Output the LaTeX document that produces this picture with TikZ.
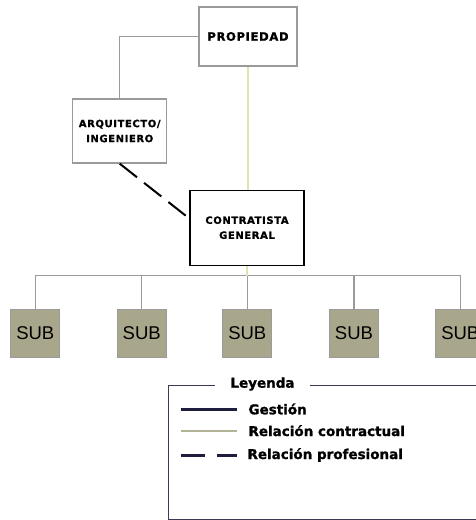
\documentclass[tikz,border=0pt]{standalone}
\usepackage{fontspec}
\usetikzlibrary{calc}
\newfontfamily\boxfont[LetterSpace=6, BoldFeatures={FakeBold=1.2}]{DejaVu Sans}
\newfontfamily\legfont[BoldFeatures={FakeBold=1.2}]{DejaVu Sans}
\newfontfamily\subfont{Liberation Sans}
\definecolor{linegray}{HTML}{9A9A9A}
\definecolor{contract}{HTML}{E2E2B0}
\definecolor{contractleg}{HTML}{B2B294}
\definecolor{subfill}{HTML}{A9A78B}
\definecolor{navy}{HTML}{1E1E3C}
\definecolor{legframe}{HTML}{3A3A55}

\begin{document}
\begin{tikzpicture}[x=1pt, y=-1pt,
    orgbox/.style={draw=#1, line width=1.3pt, fill=white, inner sep=0pt, align=center, font=\boxfont\bfseries\fontsize{10}{15}\selectfont},
    subbox/.style={draw=linegray, line width=1.2pt, fill=subfill, minimum width=49pt, minimum height=48pt, inner sep=0pt, font=\subfont\fontsize{18.5}{20}\selectfont},
    gestion/.style={draw=linegray, line width=1.3pt},
    contrato/.style={draw=contract, line width=1.5pt},
    profesional/.style={draw=black, line width=2pt, dash pattern=on 22pt off 9pt},
    legtext/.style={anchor=west, inner sep=0pt, font=\legfont\bfseries\fontsize{13.5}{16}\selectfont},
]
\useasboundingbox (0,0) rectangle (476,520);
\clip (0,0) rectangle (476,520);

% org chart
\node[orgbox=linegray, minimum width=98pt, minimum height=59pt, font=\boxfont\bfseries\fontsize{11.5}{15}\selectfont] (prop) at (248,36.5) {PROPIEDAD};
\node[orgbox=linegray, minimum width=94pt, minimum height=64pt] (arq) at (119.7,131) {ARQUITECTO/\\INGENIERO};
\node[orgbox=black, minimum width=114pt, minimum height=75pt] (con) at (247,227.7) {CONTRATISTA\\GENERAL};
\foreach \x [count=\i] in {35.3,141.7,247.3,354,460.3}
    \node[subbox] (sub\i) at (\x,333.5) {SUB};

\coordinate (bus) at (0,275.7);
\draw[gestion] (prop.west) -| (arq.north);
\draw[contrato] (prop.south) -- (prop.south |- con.north);
\draw[profesional] (arq.south) -- ($(con.north west)!0.38!(con.south west)$);
\draw[gestion] (sub1.north) |- (bus -| sub5.north) -- (sub5.north);
\foreach \i in {2,3,4}
    \draw[gestion] (sub\i.north) -- (sub\i.north |- bus);
\draw[contrato] (con.south) -- (con.south |- bus);

% legend
\draw[legframe, line width=1pt] (168,385) rectangle (490,519.3);
\node[fill=white, minimum width=95pt, inner sep=0pt, font=\legfont\bfseries\fontsize{13.5}{16}\selectfont] (ley) at (262.5,384) {Leyenda};
\node[legtext] (leg1) at (248.3,409) {Gestión};
\node[legtext] (leg2) at (248.3,430.7) {Relación contractual};
\node[legtext] (leg3) at (247.3,455) {Relación profesional};
\draw[navy, line width=3pt] (180.7,409.3) -- (237.3,409.3);
\draw[contractleg, line width=2pt] (180.7,430.7) -- (237.3,430.7);
\draw[navy, line width=3pt, dash pattern=on 24pt off 12pt] (180.7,455) -- (237.3,455);
\end{tikzpicture}
\end{document}
